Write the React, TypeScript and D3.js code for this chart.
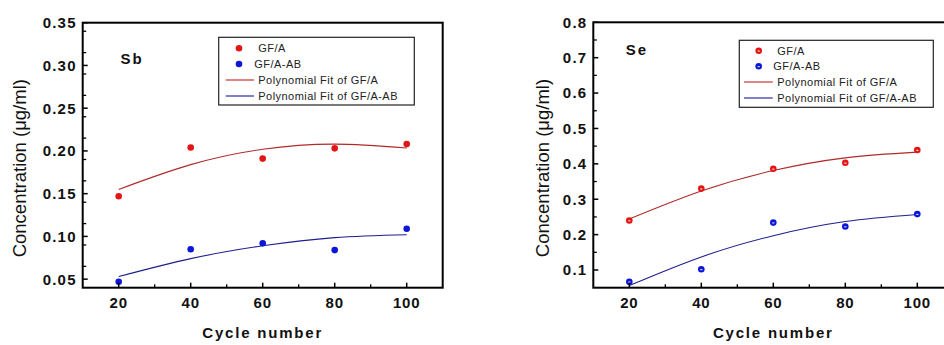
import React from "react";
import * as d3 from "d3";

const cycles = [20, 40, 60, 80, 100];
const xTicks = [20, 40, 60, 80, 100];

const sbGFA = [0.147, 0.204, 0.191, 0.203, 0.208];
const sbGFAAB = [0.047, 0.085, 0.092, 0.084, 0.109];
const sbFitGFA = [0.155, 0.184, 0.202, 0.208, 0.2035];
const sbFitGFAAB = [0.053, 0.074, 0.089, 0.0986, 0.102];
const sbYTicks = [0.05, 0.1, 0.15, 0.2, 0.25, 0.3, 0.35];

const seGFA = [0.24, 0.33, 0.386, 0.403, 0.439];
const seGFAAB = [0.067, 0.102, 0.234, 0.223, 0.258];
const seFitGFA = [0.244, 0.323, 0.381, 0.417, 0.433];
const seFitGFAAB = [0.056, 0.137, 0.197, 0.237, 0.257];
const seYTicks = [0.1, 0.2, 0.3, 0.4, 0.5, 0.6, 0.7, 0.8];

const legendLabels = ["GF/A", "GF/A-AB", "Polynomial Fit of GF/A", "Polynomial Fit of GF/A-AB"];

const RED = "#e41414";
const BLUE = "#0c16d8";
const FITRED = "#b02a2a";
const FITBLUE = "#1e1e8c";
const FONT = "'Liberation Sans', Arial, sans-serif";

type PanelProps = {
  x0: number; x1: number; y0: number; y1: number;
  yDomain: [number, number];
  yTicks: number[];
  yMinorStep: number;
  yFmt: (v: number) => string;
  label: string; labelX: number; labelY: number;
  a: number[]; b: number[]; fa: number[]; fb: number[];
  legend: { x: number; y: number; w: number; h: number; rowY: number[]; markerX: number; textX1: number; textX2: number; lineX1: number; lineX2: number; textX3: number };
  hollow: boolean;
  titleX: number;
};

function Marker({ cx, cy, color, hollow }: { cx: number; cy: number; color: string; hollow: boolean }) {
  if (!hollow) return <circle cx={cx} cy={cy} r={3.3} fill={color} />;
  return (
    <g>
      <circle cx={cx} cy={cy} r={3.3} fill={color} />
      <rect x={cx - 1.1} y={cy - 0.2} width={2.2} height={1.1} fill="#fff" opacity={0.85} />
    </g>
  );
}

function Panel(p: PanelProps) {
  const x = d3.scaleLinear().domain([10, 110]).range([p.x0, p.x1]);
  const y = d3.scaleLinear().domain(p.yDomain).range([p.y1, p.y0]);
  const line = d3.line<number>().x((_, i) => x(cycles[i])).y((d) => y(d)).curve(d3.curveNatural);
  const minorY = d3.range(p.yDomain[0], p.yDomain[1] + 1e-9, p.yMinorStep / 2).filter(
    (v) => v > p.yDomain[0] + 1e-6 && !p.yTicks.some((t) => Math.abs(t - v) < 1e-6)
  );
  const xMinor = [30, 50, 70, 90];
  const L = p.legend;
  return (
    <g>
      <path d={line(p.fa) || ""} fill="none" stroke={FITRED} strokeWidth={1.1} />
      <path d={line(p.fb) || ""} fill="none" stroke={FITBLUE} strokeWidth={1.1} />
      {p.a.map((v, i) => <Marker key={"a" + i} cx={x(cycles[i])} cy={y(v)} color={RED} hollow={p.hollow} />)}
      {p.b.map((v, i) => <Marker key={"b" + i} cx={x(cycles[i])} cy={y(v)} color={BLUE} hollow={p.hollow} />)}
      <rect x={p.x0} y={p.y0} width={p.x1 - p.x0} height={p.y1 - p.y0} fill="none" stroke="#000" strokeWidth={2} />
      {p.yTicks.map((t) => (
        <g key={"yt" + t}>
          <line x1={p.x0} x2={p.x0 + 5} y1={y(t)} y2={y(t)} stroke="#000" strokeWidth={1.5} />
          <text x={p.x0 - 6} y={y(t)} dy="0.36em" textAnchor="end" fontFamily={FONT} fontWeight="bold" fontSize={15} letterSpacing={1.2} fill="#111">
            {p.yFmt(t)}
          </text>
        </g>
      ))}
      {minorY.map((t) => (
        <line key={"ym" + t} x1={p.x0} x2={p.x0 + 3.5} y1={y(t)} y2={y(t)} stroke="#000" strokeWidth={1.3} />
      ))}
      {xTicks.map((t) => (
        <g key={"xt" + t}>
          <line x1={x(t)} x2={x(t)} y1={p.y1} y2={p.y1 - 5} stroke="#000" strokeWidth={1.5} />
          <text x={x(t)} y={308} textAnchor="middle" fontFamily={FONT} fontWeight="bold" fontSize={15} letterSpacing={0.8} fill="#111">
            {t}
          </text>
        </g>
      ))}
      {xMinor.map((t) => (
        <line key={"xm" + t} x1={x(t)} x2={x(t)} y1={p.y1} y2={p.y1 - 3.5} stroke="#000" strokeWidth={1.3} />
      ))}
      <text x={(x(20) + x(100)) / 2} y={338} textAnchor="middle" fontFamily={FONT} fontWeight="bold" fontSize={15} letterSpacing={1.8} fill="#111">
        Cycle number
      </text>
      <text transform={`translate(${p.titleX},${(p.y0 + p.y1) / 2 + 13}) rotate(-90)`} textAnchor="middle" dy="0.35em" fontFamily={FONT} fontSize={18.5} fill="#111">
        Concentration (μg/ml)
      </text>
      <text x={p.labelX} y={p.labelY} dy="0.35em" fontFamily={FONT} fontWeight="bold" fontSize={15} letterSpacing={2} fill="#111">
        {p.label}
      </text>
      <rect x={L.x} y={L.y} width={L.w} height={L.h} fill="#fff" stroke="#222" strokeWidth={1.2} />
      <Marker cx={L.markerX} cy={L.rowY[0]} color={RED} hollow={p.hollow} />
      <Marker cx={L.markerX} cy={L.rowY[1]} color={BLUE} hollow={p.hollow} />
      <line x1={L.lineX1} x2={L.lineX2} y1={L.rowY[2]} y2={L.rowY[2]} stroke="#cc3333" strokeWidth={1.2} />
      <line x1={L.lineX1} x2={L.lineX2} y1={L.rowY[3]} y2={L.rowY[3]} stroke="#2a2aa0" strokeWidth={1.2} />
      {legendLabels.map((lab, i) => (
        <text key={lab} x={i === 0 ? L.textX1 : i === 1 ? L.textX2 : L.textX3} y={L.rowY[i]} dy="0.36em" fontFamily={FONT} fontSize={11} letterSpacing={0.45} fill="#222">
          {lab}
        </text>
      ))}
    </g>
  );
}

export default function App() {
  return (
    <svg width={944} height={345} style={{ position: "absolute", left: 0, top: 0, background: "#fff" }}>
      <rect x={0} y={0} width={944} height={345} fill="#fff" />
      <Panel
        x0={82.7} x1={442.7} y0={22.7} y1={287.7}
        yDomain={[0.04, 0.35]} yTicks={sbYTicks} yMinorStep={0.05}
        yFmt={(v) => v.toFixed(2)}
        label="Sb" labelX={120.5} labelY={59}
        a={sbGFA} b={sbGFAAB} fa={sbFitGFA} fb={sbFitGFAAB}
        legend={{ x: 218.7, y: 37.3, w: 195.6, h: 67.7, rowY: [48.3, 64, 80, 96], markerX: 239, textX1: 258.3, textX2: 254.3, lineX1: 225.7, lineX2: 254, textX3: 258.3 }}
        hollow={false}
        titleX={20}
      />
      <Panel
        x0={593.3} x1={953.3} y0={22.3} y1={287.7}
        yDomain={[0.05, 0.8]} yTicks={seYTicks} yMinorStep={0.1}
        yFmt={(v) => v.toFixed(1)}
        label="Se" labelX={625.7} labelY={49.3}
        a={seGFA} b={seGFAAB} fa={seFitGFA} fb={seFitGFAAB}
        legend={{ x: 739.3, y: 40.3, w: 194, h: 67, rowY: [50.7, 66.3, 82, 98], markerX: 758.7, textX1: 777.3, textX2: 773.3, lineX1: 744, lineX2: 772.7, textX3: 777.3 }}
        hollow={true}
        titleX={543}
      />
    </svg>
  );
}
